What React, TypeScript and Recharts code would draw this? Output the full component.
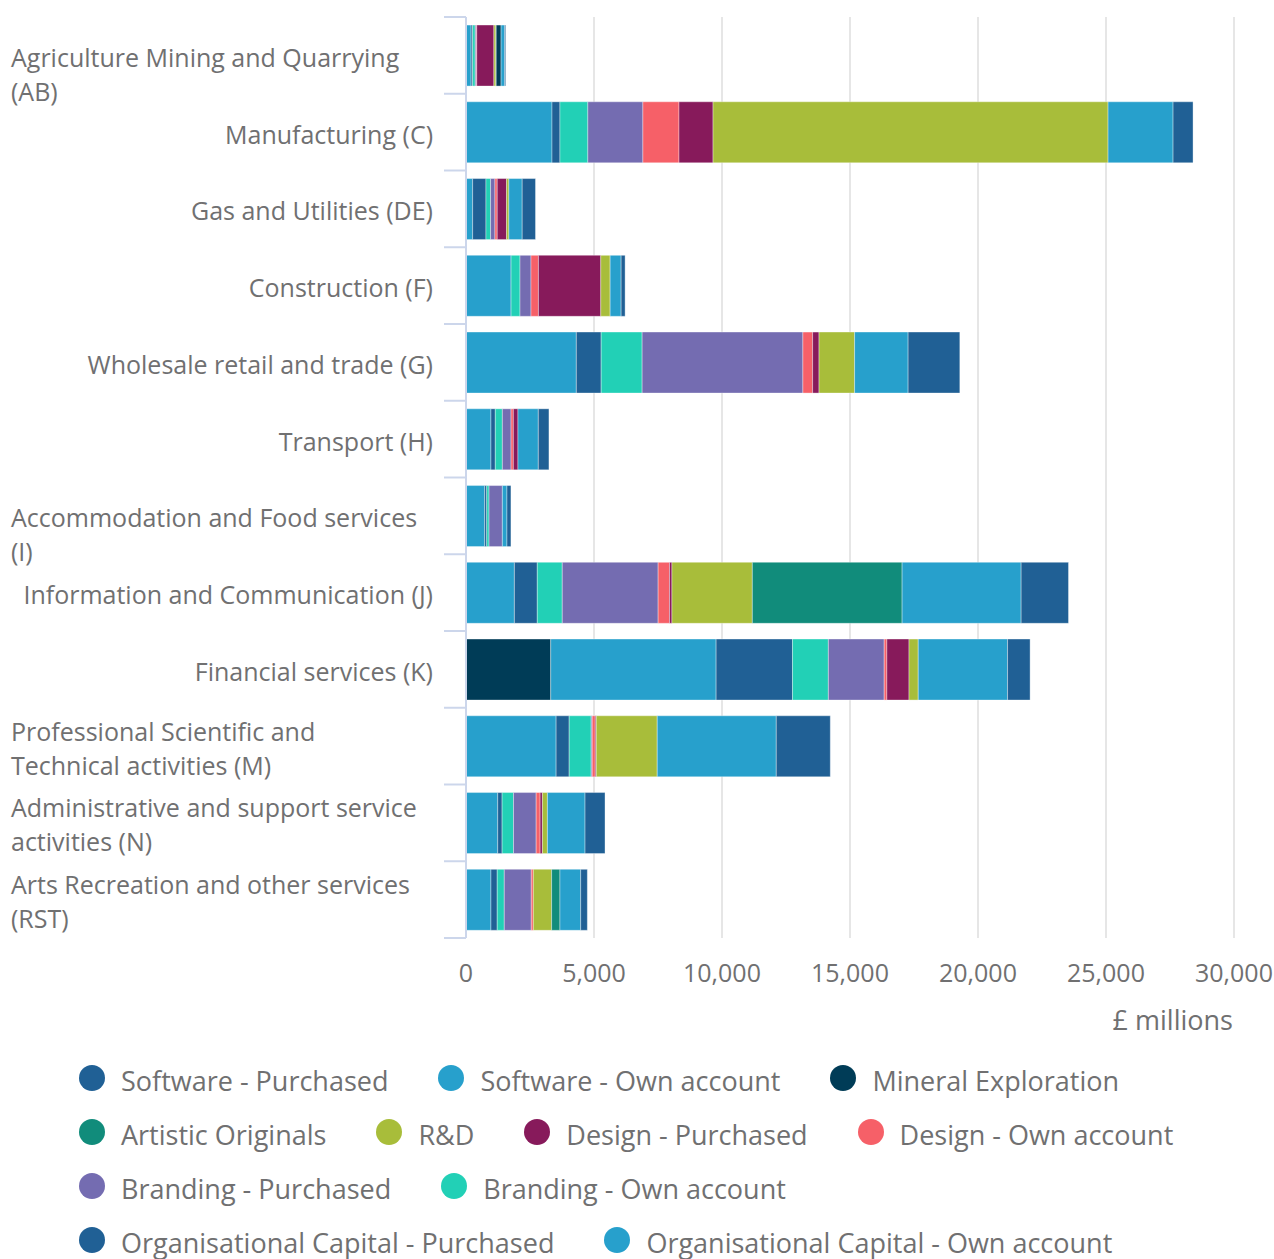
import React from 'react';
import { BarChart, Bar, XAxis, YAxis, CartesianGrid, Legend } from 'recharts';

// ---------- data ----------
const categories = [
  'Agriculture Mining and Quarrying\n(AB)',
  'Manufacturing (C)',
  'Gas and Utilities (DE)',
  'Construction (F)',
  'Wholesale retail and trade (G)',
  'Transport (H)',
  'Accommodation and Food services\n(I)',
  'Information and Communication (J)',
  'Financial services (K)',
  'Professional Scientific and\nTechnical activities (M)',
  'Administrative and support service\nactivities (N)',
  'Arts Recreation and other services\n(RST)',
];

// wrapped labels whose first line sits on the bar centre (as in the source)
const topAnchoredLabels = [
  'Agriculture Mining and Quarrying\n(AB)',
  'Accommodation and Food services\n(I)',
];

const xTicks = [0, 5000, 10000, 15000, 20000, 25000, 30000];

// £ millions, one value per category (top to bottom)
const financialInnovation = [0, 0, 0, 0, 0, 0, 0, 0, 3310, 0, 0, 0];
const orgCapitalOwn = [200, 3360, 260, 1760, 4310, 975, 730, 1890, 6460, 3520, 1240, 975];
const orgCapitalPurchased = [60, 310, 520, 0, 970, 170, 80, 895, 2985, 510, 170, 245];
const brandingOwn = [100, 1090, 180, 350, 1600, 275, 90, 975, 1400, 860, 445, 275];
const brandingPurchased = [40, 2150, 170, 430, 6280, 340, 520, 3745, 2180, 40, 885, 1055];
const designOwn = [20, 1410, 90, 290, 380, 90, 0, 445, 105, 120, 155, 80];
const designPurchased = [670, 1330, 365, 2435, 250, 180, 0, 95, 865, 40, 90, 0];
const researchDev = [80, 15430, 90, 365, 1390, 0, 0, 3140, 360, 2380, 195, 715];
const artisticOriginals = [10, 0, 0, 0, 0, 0, 0, 5850, 0, 0, 0, 325];
const mineralExploration = [190, 0, 0, 0, 0, 0, 0, 0, 0, 0, 0, 0];
const softwareOwn = [140, 2540, 520, 430, 2090, 795, 180, 4650, 3490, 4650, 1470, 810];
const softwarePurchased = [40, 780, 520, 155, 2020, 415, 155, 1850, 880, 2110, 780, 260];

// stack order: first entry sits next to zero
const series = [
  { key: 'finInnovation', name: 'Financial Innovation', color: '#003c57', values: financialInnovation },
  { key: 'ocOwn', name: 'Organisational Capital - Own account', color: '#27a0cc', values: orgCapitalOwn },
  { key: 'ocPurchased', name: 'Organisational Capital - Purchased', color: '#206095', values: orgCapitalPurchased },
  { key: 'brandingOwn', name: 'Branding - Own account', color: '#22d0b6', values: brandingOwn },
  { key: 'brandingPurchased', name: 'Branding - Purchased', color: '#746cb1', values: brandingPurchased },
  { key: 'designOwn', name: 'Design - Own account', color: '#f66068', values: designOwn },
  { key: 'designPurchased', name: 'Design - Purchased', color: '#871a5b', values: designPurchased },
  { key: 'rd', name: 'R&D', color: '#a8bd3a', values: researchDev },
  { key: 'artistic', name: 'Artistic Originals', color: '#118c7b', values: artisticOriginals },
  { key: 'mineral', name: 'Mineral Exploration', color: '#003c57', values: mineralExploration },
  { key: 'softwareOwn', name: 'Software - Own account', color: '#27a0cc', values: softwareOwn },
  { key: 'softwarePurchased', name: 'Software - Purchased', color: '#206095', values: softwarePurchased },
];

const legendOrder = [
  'softwarePurchased', 'softwareOwn', 'mineral', 'artistic', 'rd', 'designPurchased',
  'designOwn', 'brandingPurchased', 'brandingOwn', 'ocPurchased', 'ocOwn',
];

const data = categories.map((name, i) => {
  const row: Record<string, any> = { name };
  series.forEach((s) => { row[s.key] = s.values[i]; });
  return row;
});

// ---------- layout / style ----------
const FONT = '"Open Sans", "Noto Sans", sans-serif';
const TEXT = '#707071';
const AXIS = '#ccd6eb';
const PLOT_TOP = 17;
const PLOT_BOTTOM = 938;
const CHART_H = 1338;
const LEGEND_H = 300;
const XAXIS_H = 100;
const BAND = (PLOT_BOTTOM - PLOT_TOP) / categories.length;

const fmt = (v: number) => v.toLocaleString('en-GB');

function CategoryTick(props: any) {
  const { x, y, payload, index } = props;
  const label = String(payload.value);
  const lines = label.split('\n');
  const fs = 25;
  const lh = 34;
  const multi = lines.length > 1;
  const base = y + 2.5 + 0.357 * fs;
  const shift = multi && !topAnchoredLabels.includes(label) ? -((lines.length - 1) * lh) / 2 : 0;
  const tx = multi ? 11 : x - 33;
  const last = index === categories.length - 1;
  return (
    <g>
      <line x1={x - 22} x2={x} y1={y - BAND / 2} y2={y - BAND / 2} stroke={AXIS} strokeWidth={2} />
      {last && <line x1={x - 22} x2={x} y1={y + BAND / 2} y2={y + BAND / 2} stroke={AXIS} strokeWidth={2} />}
      <text textAnchor={multi ? 'start' : 'end'} fontSize={fs} fill={TEXT} fontFamily={FONT}>
        {lines.map((l, i) => (
          <tspan key={i} x={tx} y={base + shift + i * lh}>{l}</tspan>
        ))}
      </text>
    </g>
  );
}

function XTitle(props: any) {
  const vb = props.viewBox || {};
  return (
    <text x={vb.x + vb.width - 1} y={vb.y + 92} textAnchor="end" fontSize={27} fill={TEXT} fontFamily={FONT}>
      £ millions
    </text>
  );
}

function LegendContent() {
  return (
    <div style={{ position: 'relative', width: 1274, height: LEGEND_H }}>
      <div
        style={{
          position: 'absolute', left: 79, top: 16, width: 1160,
          display: 'flex', flexWrap: 'wrap', columnGap: 50,
        }}
      >
        {legendOrder.map((k) => {
          const s = series.find((d) => d.key === k)!;
          return (
            <div key={k} style={{ display: 'flex', alignItems: 'center', height: 54 }}>
              <span
                style={{
                  display: 'inline-block', width: 26, height: 26, borderRadius: '50%',
                  background: s.color, marginRight: 16, flex: 'none', transform: 'translateY(-3px)',
                }}
              />
              <span style={{ fontSize: 27, color: TEXT, fontFamily: FONT, whiteSpace: 'nowrap', lineHeight: '54px' }}>
                {s.name}
              </span>
            </div>
          );
        })}
      </div>
    </div>
  );
}

export default function App() {
  return (
    <div style={{ position: 'absolute', left: 0, top: 0, width: 1274, height: 1259, overflow: 'hidden', background: '#fff' }}>
      <BarChart
        width={1274}
        height={CHART_H}
        data={data}
        layout="vertical"
        margin={{ top: PLOT_TOP, right: 40, left: 0, bottom: 0 }}
        barCategoryGap="10.5%"
        style={{ fontFamily: FONT }}
      >
        <CartesianGrid horizontal={false} stroke="#e6e6e6" strokeWidth={2} />
        <XAxis
          type="number"
          domain={[0, 30000]}
          ticks={xTicks}
          tickFormatter={fmt}
          axisLine={false}
          tickLine={false}
          tickSize={0}
          tickMargin={26}
          height={XAXIS_H}
          interval={0}
          tick={{ fontSize: 25, fill: TEXT, fontFamily: FONT }}
          label={(p: any) => <XTitle {...p} />}
        />
        <YAxis
          type="category"
          dataKey="name"
          width={466}
          axisLine={{ stroke: AXIS, strokeWidth: 2 }}
          tickLine={false}
          tickSize={0}
          tickMargin={0}
          interval={0}
          tick={(p: any) => <CategoryTick {...p} />}
        />
        <Legend
          verticalAlign="bottom"
          width={1274}
          height={LEGEND_H}
          wrapperStyle={{ left: 0, bottom: 0 }}
          content={() => <LegendContent />}
        />
        {series.map((s) => (
          <Bar
            key={s.key}
            dataKey={s.key}
            name={s.name}
            stackId="total"
            fill={s.color}
            stroke="#ffffff"
            strokeOpacity={0.35}
            strokeWidth={1}
            isAnimationActive={false}
          />
        ))}
      </BarChart>
    </div>
  );
}
